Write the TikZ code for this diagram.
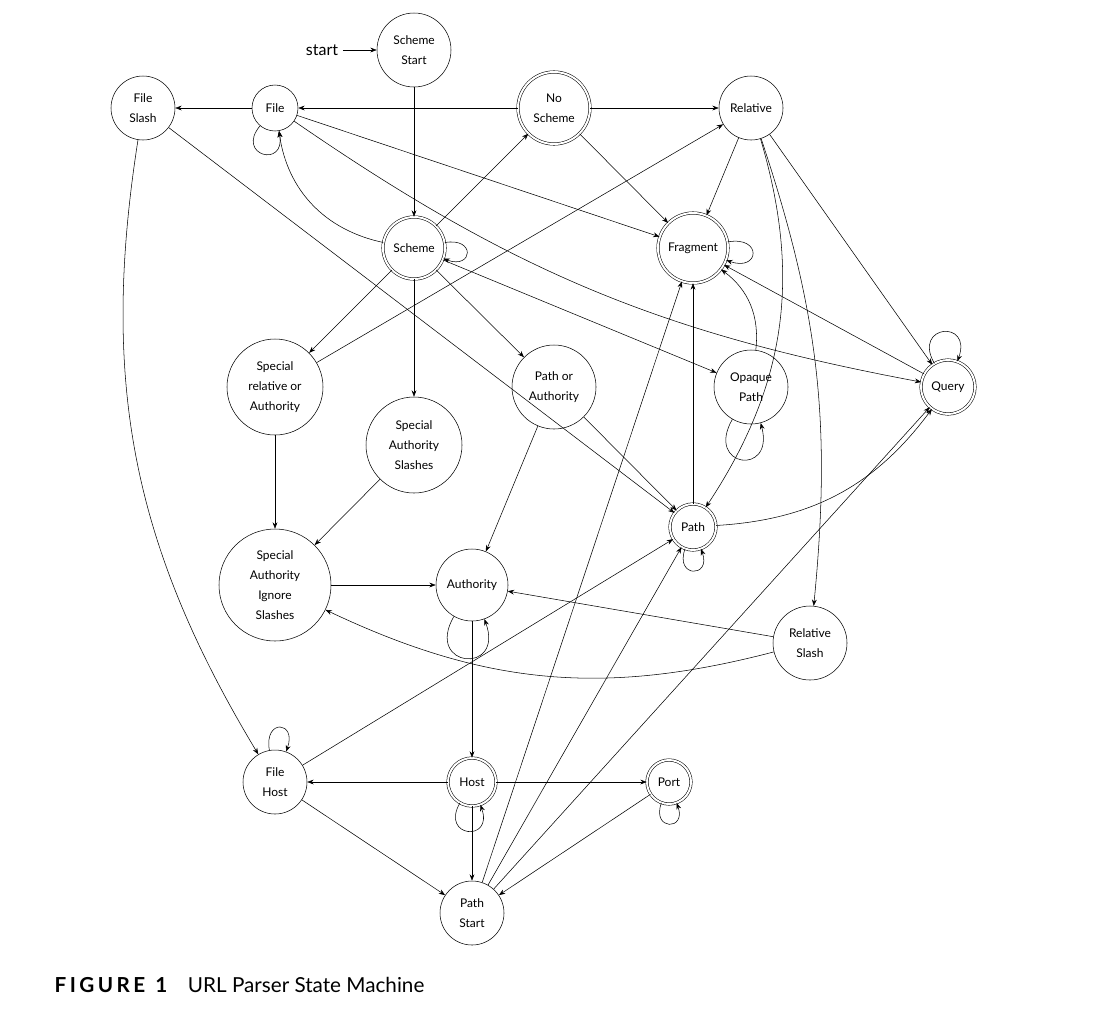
\documentclass[tikz,border=0pt]{standalone}
\usepackage{fontspec}
\setmainfont{Lato}
\usetikzlibrary{arrows.meta}
\begin{document}
\begin{tikzpicture}[x=0.75pt,y=-0.75pt,
 st/.style={draw,circle,font=\fontsize{9}{15}\selectfont,align=center,inner sep=1pt,minimum size=#1*0.75pt},
 ac/.style={st=#1,double,double distance=1.5pt},
 e/.style={->,>=Stealth},
 lp/.style={e,min distance=16pt,looseness=5}]
\useasboundingbox (0,0) rectangle (1116,1022);
\node[st=74] (ss) at (414,50) {Scheme\\Start};
\node[font=\large] (start) at (322,50) {start};
\node[st=64] (fs) at (143,108) {File\\Slash};
\node[st=46] (file) at (275,108) {File};
\node[ac=72] (ns) at (554,108) {No\\Scheme};
\node[st=64] (rel) at (751,108) {Relative};
\node[ac=62] (sch) at (414,248) {Scheme};
\node[ac=70] (frag) at (693,248) {Fragment};
\node[st=96] (sra) at (275,387) {Special\\relative or\\Authority};
\node[st=96] (sas) at (414,445) {Special\\Authority\\Slashes};
\node[st=84] (poa) at (554,387) {Path or\\Authority};
\node[st=74] (op) at (751,387) {Opaque\\Path};
\node[ac=54] (q) at (948,387) {Query};
\node[ac=46] (path) at (693,527) {Path};
\node[st=112] (sais) at (275,585) {Special\\Authority\\Ignore\\Slashes};
\node[st=72] (auth) at (472,585) {Authority};
\node[st=74] (rs) at (810,643) {Relative\\Slash};
\node[st=64] (fh) at (275,782) {File\\Host};
\node[ac=48] (host) at (472,782) {Host};
\node[ac=44] (port) at (669,782) {Port};
\node[st=64] (ps) at (472,913) {Path\\Start};
\node[anchor=west] (cap) at (50,985) {\fontsize{15.5}{18}\selectfont\textbf{F\,I\,G\,U\,R\,E\ \ 1}\quad URL Parser State Machine};

\draw[e] (start)--(ss);
\draw[e] (ss)--(sch);
\draw[e] (ns)--(file);
\draw[e] (file)--(fs);
\draw[e] (ns)--(rel);
\draw[e] (ns)--(frag);
\draw[lp] (file) to[out=-130,in=-80] (file);
\draw[e] (file)--(frag);
\draw[e] (file) to[bend right=12] (q);
\draw[e] (sch) to[bend left=35] (file);
\draw[e] (sch)--(ns);
\draw[lp] (sch) to[out=10,in=-20] (sch);
\draw[e] (sch)--(sra);
\draw[e] (sch)--(sas);
\draw[e] (sch)--(poa);
\draw[e] (sch)--(op);
\draw[e] (sra)--(rel);
\draw[e] (sra)--(sais);
\draw[e] (sas)--(sais);
\draw[e] (sais)--(auth);
\draw[e] (poa)--(auth);
\draw[e] (poa)--(path);
\draw[e] (rel)--(frag);
\draw[e] (rel)--(q);
\draw[e] (rel) to[bend left=25] (path);
\draw[e] (rel) to[bend left=12] (rs);
\draw[lp] (frag) to[out=10,in=-20] (frag);
\draw[e] (q)--(frag);
\draw[e] (op) to[bend right=30] (frag);
\draw[lp] (op) to[out=-120,in=-75,min distance=26pt] (op);
\draw[lp] (q) to[out=120,in=70] (q);
\draw[e] (path) to[bend right=25] (q);
\draw[e] (path)--(frag);
\draw[lp] (path) to[out=-110,in=-70] (path);
\draw[e] (fs)--(path);
\draw[e] (fs) to[bend right=20] (fh);
\draw[lp] (auth) to[out=-120,in=-70] (auth);
\draw[e] (auth)--(host);
\draw[e] (rs)--(auth);
\draw[e] (rs) to[bend left=20] (sais);
\draw[lp] (fh) to[out=100,in=70] (fh);
\draw[e] (host)--(fh);
\draw[e] (host)--(port);
\draw[lp] (host) to[out=-120,in=-70] (host);
\draw[e] (host)--(ps);
\draw[e] (fh)--(ps);
\draw[e] (fh)--(path);
\draw[lp] (port) to[out=-110,in=-70] (port);
\draw[e] (port)--(ps);
\draw[e] (ps)--(frag);
\draw[e] (ps)--(path);
\draw[e] (ps)--(q);
\end{tikzpicture}
\end{document}
